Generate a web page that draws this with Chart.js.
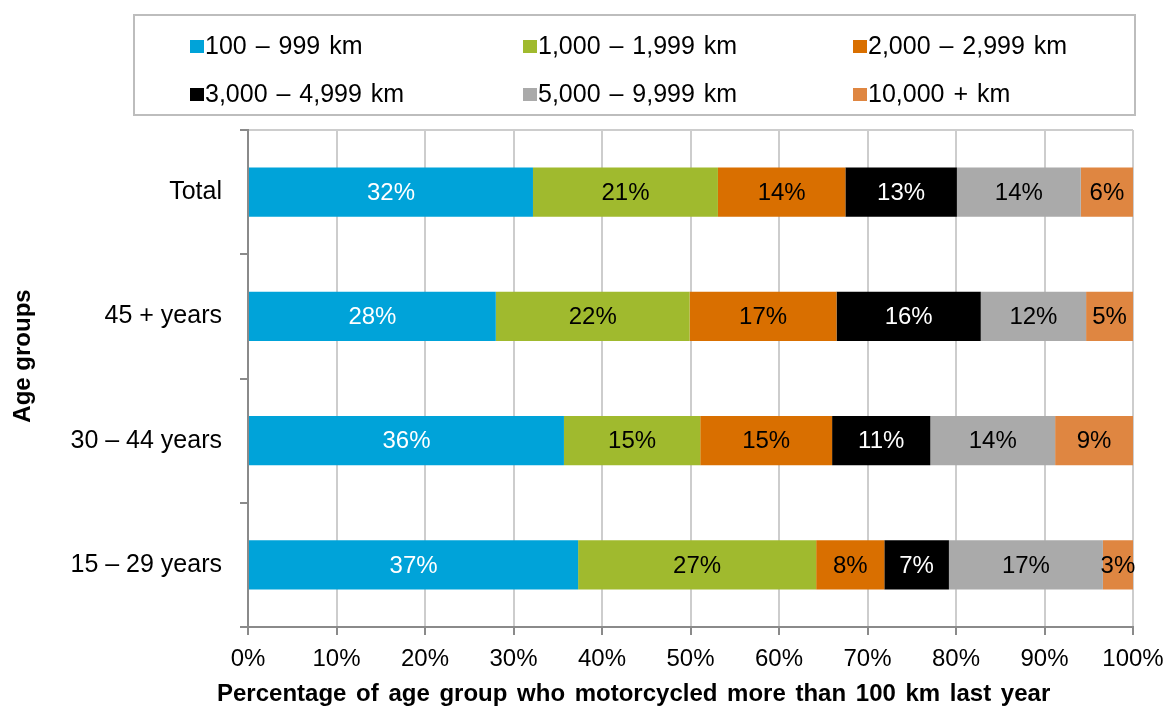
<!DOCTYPE html>
<html>
<head>
<meta charset="utf-8">
<script src="https://cdn.jsdelivr.net/npm/chart.js@4"></script>
<style>
  body { margin: 0; background: #fff; }
  #wrap { position: relative; width: 1166px; height: 709px; font-family: "Liberation Sans", Arial, sans-serif; }
  #myChart { position: absolute; left: 0; top: 0; }
  #legend { position: absolute; left: 133px; top: 14px; width: 999px; height: 98px; border: 2px solid #bdbdbd; }
  .item { position: absolute; font-size: 25px; line-height: 28px; color: #000; white-space: nowrap; word-spacing: 2px; }
  .item span.box { display: inline-block; width: 14px; height: 13px; margin-right: 1px; vertical-align: 1px; }
</style>
</head>
<body>
<div id="wrap">
  <canvas id="myChart" width="1166" height="709"></canvas>
  <div id="legend"></div>
</div>
<script>
// age groups, top to bottom
var ageGroups = ['Total', '45 + years', '30 \u2013 44 years', '15 \u2013 29 years'];

// distance bands (legend order)
var bands = ['100 \u2013 999 km', '1,000 \u2013 1,999 km', '2,000 \u2013 2,999 km',
             '3,000 \u2013 4,999 km', '5,000 \u2013 9,999 km', '10,000 + km'];
var bandColors = ['#00A3D9', '#A0BA2E', '#D96F00', '#000000', '#AAAAAA', '#DF8641'];
var labelColors = ['#fff', '#000', '#000', '#fff', '#000', '#000'];

// percent of each age group, one array per band
var km100 = [32.2, 28.0, 35.7, 37.3];
var km1000 = [20.9, 21.9, 15.4, 26.9];
var km2000 = [14.4, 16.6, 14.9, 7.7];
var km3000 = [12.6, 16.3, 11.1, 7.3];
var km5000 = [14.0, 11.9, 14.1, 17.4];
var km10000 = [5.9, 5.3, 8.8, 3.4];

var xTicks = [0, 10, 20, 30, 40, 50, 60, 70, 80, 90, 100];

var xTitle = 'Percentage of age group who motorcycled more than 100 km last year';
var yTitle = 'Age groups';

var series = [km100, km1000, km2000, km3000, km5000, km10000];
var FONT = '"Liberation Sans", Arial, sans-serif';

//draws the percentage in the middle of every segment
var segmentLabels = {
    id: 'segmentLabels',
    afterDatasetsDraw: function (chart) {
        var ctx = chart.ctx;
        ctx.save();
        ctx.font = '24px ' + FONT;
        ctx.textAlign = 'center';
        ctx.textBaseline = 'middle';
        chart.data.datasets.forEach(function (ds, i) {
            var meta = chart.getDatasetMeta(i);
            meta.data.forEach(function (bar, j) {
                ctx.fillStyle = labelColors[i];
                ctx.fillText(Math.round(ds.data[j]) + '%', (bar.x + bar.base) / 2, bar.y + 1);
            });
        });
        ctx.restore();
    }
};

//axis titles, placed like the original (not centred on the plot)
var axisTitles = {
    id: 'axisTitles',
    afterDraw: function (chart) {
        var ctx = chart.ctx;
        ctx.save();
        ctx.fillStyle = '#000';
        ctx.font = 'bold 24px ' + FONT;
        ctx.textBaseline = 'middle';
        ctx.textAlign = 'left';
        ctx.wordSpacing = '3px';
        ctx.fillText(xTitle, 217, 694);
        ctx.wordSpacing = '0px';
        ctx.translate(23, 356);
        ctx.rotate(-Math.PI / 2);
        ctx.textAlign = 'center';
        ctx.fillText(yTitle, 0, 0);
        ctx.restore();
    }
};

var ctx = document.getElementById('myChart').getContext('2d');

var myChart = new Chart(ctx, {
    type: 'bar',
    data: {
        labels: ageGroups,
        datasets: series.map(function (values, i) {
            return {
                label: bands[i],
                data: values,
                backgroundColor: bandColors[i],
                borderWidth: 0,
                categoryPercentage: 1,
                barPercentage: 0.395
            };
        })
    },
    options: {
        indexAxis: 'y',
        responsive: false,
        animation: false,
        layout: { padding: { top: 130, right: 33, left: 0, bottom: 0 } },
        plugins: {
            legend: { display: false },
            tooltip: { enabled: false }
        },
        scales: {
            x: {
                stacked: true,
                min: 0,
                max: 100,
                afterBuildTicks: function (scale) {
                    scale.ticks = xTicks.map(function (v) { return { value: v }; });
                },
                afterFit: function (scale) {
                    scale.height = 82;
                    scale.paddingLeft = 0;
                    scale.paddingRight = 0;
                },
                border: { color: '#8a8a8a', width: 2 },
                grid: { color: '#cdcdcd', lineWidth: 2, tickColor: '#8a8a8a', tickLength: 8 },
                ticks: {
                    color: '#000',
                    font: { family: FONT, size: 24 },
                    padding: 10,
                    maxRotation: 0,
                    callback: function (v) { return v + '%'; }
                }
            },
            y: {
                stacked: true,
                afterFit: function (scale) { scale.width = 248; },
                border: { color: '#8a8a8a', width: 2 },
                grid: {
                    offset: true,
                    lineWidth: 2,
                    color: function (c) { return c.index === 0 ? '#cdcdcd' : 'rgba(0,0,0,0)'; },
                    tickColor: '#8a8a8a',
                    tickLength: 8
                },
                ticks: {
                    color: '#000',
                    font: { family: FONT, size: 25 },
                    padding: 18
                }
            }
        }
    },
    plugins: [segmentLabels, axisTitles]
});

//legend built from the datasets, three columns
var legendPos = [[55, 15], [388, 15], [718, 15], [55, 63], [388, 63], [718, 63]];
var legendBox = document.getElementById('legend');
myChart.data.datasets.forEach(function (ds, i) {
    var el = document.createElement('div');
    el.className = 'item';
    el.style.left = legendPos[i][0] + 'px';
    el.style.top = legendPos[i][1] + 'px';
    el.innerHTML = '<span class="box" style="background:' + ds.backgroundColor + '"></span>' + ds.label;
    legendBox.appendChild(el);
});
</script>
</body>
</html>
